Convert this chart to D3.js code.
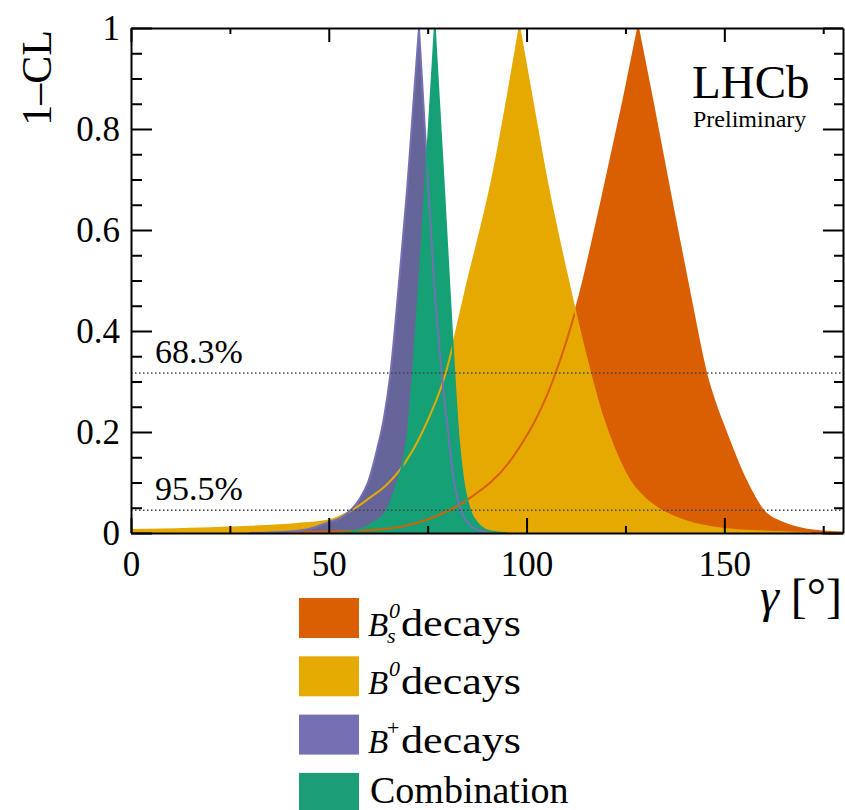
<!DOCTYPE html>
<html><head>
<meta charset="utf-8">
<script src="https://d3js.org/d3.v7.min.js"></script>
<style>
  body { margin: 0; background: #fff; }
  svg text { font-family: "Liberation Serif", "DejaVu Serif", serif; fill: #000; }
  .axis path, .axis line { stroke: #000; stroke-width: 2; }
</style>
</head>
<body>
<svg id="chart" width="845" height="810"></svg>
<script>

// values: gamma [deg] and 1-CL for each profile
const bsGamma   = [40, 50, 63, 74.7, 84.9, 96.6, 106.7, 113.4, 119.0, 124.5, 128.2, 131.8, 136.6, 141.6, 145.6, 148.0, 150.2, 155.4, 159.8, 165.2, 170.0, 175.0, 180];
const bsCL      = [0.001, 0.003, 0.007, 0.026, 0.065, 0.151, 0.303, 0.47, 0.659, 0.857, 1.0, 0.857, 0.66, 0.46, 0.31, 0.25, 0.204, 0.105, 0.045, 0.019, 0.008, 0.003, 0.001];

const b0Gamma   = [0, 25, 42, 50, 55.8, 60.4, 64.3, 68.0, 73.9, 79.3, 85.2, 91.3, 98.2, 101.6, 105.3, 110.5, 116.0, 119.0, 122.0, 126.0, 130.0, 134.0, 140.5, 150, 160, 172];
const b0CL      = [0.006, 0.011, 0.018, 0.025, 0.045, 0.070, 0.093, 0.125, 0.204, 0.31, 0.50, 0.70, 1.0, 0.85, 0.69, 0.50, 0.32, 0.235, 0.17, 0.105, 0.068, 0.045, 0.023, 0.008, 0.003, 0.0];

const bpGamma   = [30, 40, 45, 49.5, 53, 55.9, 58, 59.9, 62.2, 64.0, 65.5, 67.8, 69.8, 71.3, 72.8, 74.9, 76.6, 78.5, 80.3, 81.7, 83.4, 85.6, 88.5, 93];
const bpCL      = [0.0, 0.003, 0.008, 0.02, 0.03, 0.048, 0.07, 0.10, 0.165, 0.23, 0.31, 0.50, 0.68, 0.84, 1.0, 0.72, 0.50, 0.32, 0.19, 0.10, 0.045, 0.016, 0.004, 0.0];

const combGamma = [52, 56, 61.2, 64.7, 67.3, 68.8, 70.0, 71.3, 72.9, 74.5, 76.8, 79.0, 80.4, 81.7, 82.8, 83.9, 85.7, 87.5, 91, 95];
const combCL    = [0.0, 0.003, 0.02, 0.045, 0.10, 0.14, 0.20, 0.32, 0.50, 0.70, 1.0, 0.70, 0.50, 0.32, 0.19, 0.11, 0.045, 0.02, 0.003, 0.0];

const gammaTicks      = [0, 50, 100, 150];
const gammaMinorTicks = [25, 75, 125, 175];
const clTicks         = [0, 0.2, 0.4, 0.6, 0.8, 1];
const clMinorTicks    = [0.05, 0.1, 0.15, 0.25, 0.3, 0.35, 0.45, 0.5, 0.55, 0.65, 0.7, 0.75, 0.85, 0.9, 0.95];

const clLevels      = [0.317, 0.045];
const clLevelLabels = ["68.3%", "95.5%"];

const legendNames  = ["Bs", "B0", "Bp", "Combination"];
const legendColors = ["#D95F02", "#E6AB02", "#7570B3", "#1B9E77"];

let svg = d3.select("svg#chart");
const margins = {top: 28, right: 2, bottom: 277, left: 131};
const chWidth = 845 - margins.left - margins.right;
const chHeight = 810 - margins.top - margins.bottom;

let xScale = d3.scaleLinear().domain([0, 180]).range([0, chWidth]);
let yScale = d3.scaleLinear().domain([0, 1]).range([chHeight, 0]);

svg.append("defs").append("clipPath").attr("id", "plotclip")
   .append("rect").attr("width", chWidth).attr("height", chHeight);

let chartArea = svg.append("g")
   .attr("transform", `translate(${margins.left},${margins.top})`);
let curves = chartArea.append("g").attr("clip-path", "url(#plotclip)");

// split a profile at its maximum so the cusp stays sharp
function branches(g, c) {
  const i = c.indexOf(d3.max(c));
  const pts = g.map((v, k) => [v, c[k]]);
  return [pts.slice(0, i + 1), pts.slice(i)];
}

let areaGen = d3.area()
   .x(d => xScale(d[0]))
   .y0(yScale(0))
   .y1(d => yScale(d[1]))
   .curve(d3.curveMonotoneX);
let lineGen = d3.line()
   .x(d => xScale(d[0]))
   .y(d => yScale(d[1]))
   .curve(d3.curveMonotoneX);

const profiles = [
  {g: bsGamma,   c: bsCL,   fill: "#D95F02", line: "#D95F02"},
  {g: b0Gamma,   c: b0CL,   fill: "#E6A902", line: "#E6A902"},
  {g: bpGamma,   c: bpCL,   fill: "#66659A", line: "#7570B3"},
  {g: combGamma, c: combCL, fill: "#16A075", line: "#16A075"}
];

profiles.forEach(p => {
  const [l, r] = branches(p.g, p.c);
  curves.append("path")
     .attr("fill", p.fill)
     .attr("stroke", "none")
     .attr("d", areaGen(l) + areaGen(r));
});
profiles.forEach(p => {
  const [l, r] = branches(p.g, p.c);
  curves.append("path")
     .attr("fill", "none")
     .attr("stroke", p.line)
     .attr("stroke-width", 2)
     .attr("d", lineGen(l) + lineGen(r));
});

// confidence levels
chartArea.selectAll("line.level").data(clLevels)
   .join("line")
   .attr("class", "level")
   .attr("x1", 0).attr("x2", chWidth)
   .attr("y1", d => yScale(d)).attr("y2", d => yScale(d))
   .attr("stroke", "#444")
   .attr("stroke-width", 1.5)
   .attr("stroke-dasharray", "1.5,2.5");
chartArea.selectAll("text.level").data(clLevels)
   .join("text")
   .attr("class", "level")
   .attr("x", 24)
   .attr("y", d => yScale(d) - 10)
   .style("font-size", "34px")
   .text((d, i) => clLevelLabels[i]);

// axes
let bottomAxis = d3.axisBottom(xScale).tickValues(gammaTicks)
   .tickSize(-15).tickSizeOuter(0).tickPadding(18).tickFormat(d => "" + d);
let bottomMinor = d3.axisBottom(xScale).tickValues(gammaMinorTicks)
   .tickSize(-7).tickFormat("");
let topAxis = d3.axisTop(xScale).tickValues(gammaTicks)
   .tickSize(-14).tickSizeOuter(0).tickFormat("");
let topMinor = d3.axisTop(xScale).tickValues(gammaMinorTicks)
   .tickSize(-6).tickFormat("");
let leftAxis = d3.axisLeft(yScale).tickValues(clTicks)
   .tickSize(-21).tickSizeOuter(0).tickPadding(11).tickFormat(d => "" + d);
let leftMinor = d3.axisLeft(yScale).tickValues(clMinorTicks)
   .tickSize(-11).tickFormat("");
let rightAxis = d3.axisRight(yScale).tickValues(clTicks)
   .tickSize(-20).tickSizeOuter(0).tickFormat("");
let rightMinor = d3.axisRight(yScale).tickValues(clMinorTicks)
   .tickSize(-9).tickFormat("");

function addAxis(ax, tx, ty) {
  let g = chartArea.append("g").attr("class", "axis")
     .attr("transform", `translate(${tx},${ty})`).call(ax);
  g.attr("font-family", null);
  g.selectAll("text").style("font-size", "35px").attr("fill", "#000");
  return g;
}
addAxis(bottomAxis, 0, chHeight);
addAxis(bottomMinor, 0, chHeight).select(".domain").remove();
addAxis(topAxis, 0, 0);
addAxis(topMinor, 0, 0).select(".domain").remove();
addAxis(leftAxis, 0, 0);
addAxis(leftMinor, 0, 0).select(".domain").remove();
addAxis(rightAxis, chWidth, 0);
addAxis(rightMinor, chWidth, 0).select(".domain").remove();

// axis titles
svg.append("text")
   .attr("transform", "translate(51,30) rotate(-90)")
   .attr("text-anchor", "end")
   .style("font-size", "42px")
   .text("1\u2013CL");

let xTitle = svg.append("text")
   .attr("x", 842).attr("y", 612)
   .attr("text-anchor", "end")
   .style("font-size", "48px");
xTitle.append("tspan").style("font-style", "italic").text("\u03B3");
xTitle.append("tspan").text(" [\u00B0]");

// LHCb label
svg.append("text").attr("x", 692).attr("y", 98)
   .style("font-size", "47px").text("LHCb");
svg.append("text").attr("x", 693).attr("y", 127)
   .style("font-size", "24px").text("Preliminary");

// legend
let legend = svg.append("g").attr("transform", "translate(299,598)");
let rows = legend.selectAll("g.row").data(legendNames)
   .join("g").attr("class", "row")
   .attr("transform", (d, i) => `translate(0,${i * 58.3})`);
rows.append("rect")
   .attr("width", 60).attr("height", 40)
   .attr("fill", (d, i) => legendColors[i]);

rows.each(function(d) {
  let r = d3.select(this);
  if (d === "Combination") {
    r.append("text").attr("x", 71).attr("y", 30)
     .style("font-size", "38px").text("Combination");
    return;
  }
  r.append("text").attr("x", 69).attr("y", 38)
   .style("font-size", "33px").style("font-style", "italic").text("B");
  if (d === "Bp") {
    r.append("text").attr("x", 88).attr("y", 20)
     .style("font-size", "22px").text("+");
  } else {
    r.append("text").attr("x", 90).attr("y", 20)
     .style("font-size", "22px").style("font-style", "italic").text("0");
  }
  if (d === "Bs") {
    r.append("text").attr("x", 88).attr("y", 45)
     .style("font-size", "22px").style("font-style", "italic").text("s");
  }
  r.append("text").attr("x", 102).attr("y", 38)
   .attr("textLength", 120).attr("lengthAdjust", "spacingAndGlyphs")
   .style("font-size", "38px").text("decays");
});

</script>
</body>
</html>
